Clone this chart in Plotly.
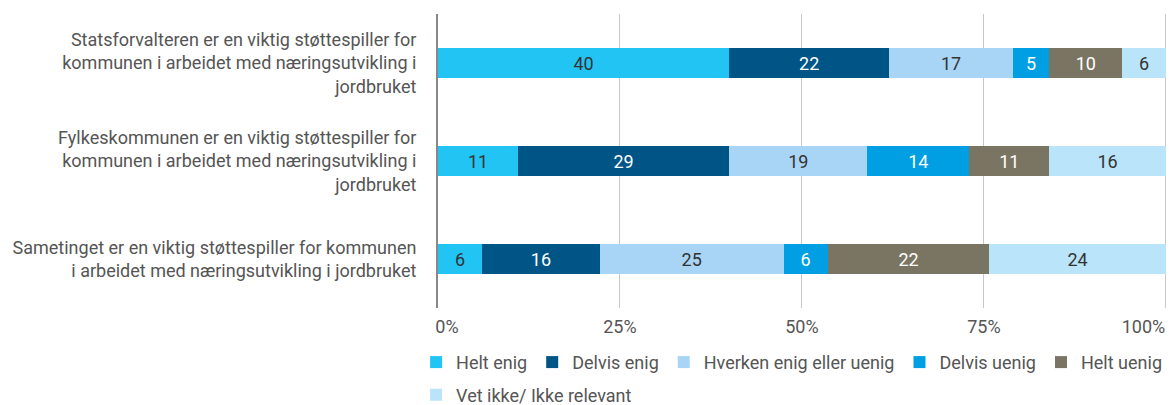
import plotly.graph_objects as go

statements = [
    "Statsforvalteren er en viktig støttespiller for<br>kommunen i arbeidet med næringsutvikling i<br>jordbruket",
    "Fylkeskommunen er en viktig støttespiller for<br>kommunen i arbeidet med næringsutvikling i<br>jordbruket",
    "Sametinget er en viktig støttespiller for kommunen<br>i arbeidet med næringsutvikling i jordbruket",
]
answers = ["Helt enig", "Delvis enig", "Hverken enig eller uenig",
           "Delvis uenig", "Helt uenig", "Vet ikke/ Ikke relevant"]
helt_enig = [40, 11, 6]
delvis_enig = [22, 29, 16]
hverken = [17, 19, 25]
delvis_uenig = [5, 14, 6]
helt_uenig = [10, 11, 22]
vet_ikke = [6, 16, 24]

tick_vals = [0, 25, 50, 75, 100]
tick_text = ["\u00a0\u00a0\u00a0\u00a00%", "25%", "50%", "75%",
             "100%" + "\u00a0" * 10]

values = [helt_enig, delvis_enig, hverken, delvis_uenig, helt_uenig, vet_ikke]
colors = ["#21C4F3", "#005587", "#A8D5F5", "#009FE3", "#7A7562", "#B9E4FA"]
text_colors = ["#333333", "#ffffff", "#333333", "#ffffff", "#ffffff", "#333333"]
legend_ids = ["legend", "legend", "legend", "legend", "legend", "legend2"]

fig = go.Figure()
for name, vals, col, tcol, lg in zip(answers, values, colors, text_colors, legend_ids):
    fig.add_trace(go.Bar(
        y=statements, x=vals, name=name, orientation="h", legend=lg,
        marker=dict(color=col, line=dict(width=0)),
        text=vals, texttemplate="%{text}", textposition="inside",
        insidetextanchor="middle", constraintext="none",
        textfont=dict(color=tcol, size=18, family="Roboto"),
    ))

legend_style = dict(orientation="h", xanchor="left", yanchor="middle",
                    font=dict(size=18, color="#555555"), traceorder="normal",
                    itemwidth=30, tracegroupgap=0, bgcolor="rgba(0,0,0,0)")
fig.update_layout(
    barmode="stack", barnorm="percent", bargap=0.694,
    width=1171, height=405,
    margin=dict(l=438, r=3, t=14, b=97, autoexpand=False),
    plot_bgcolor="white", paper_bgcolor="white",
    font=dict(family="Roboto", size=18, color="#555555"),
    legend=dict(x=-0.03, y=-0.185, **legend_style),
    legend2=dict(x=-0.03, y=-0.296, **legend_style),
    showlegend=True,
)
# range a touch past 100 so the 100% gridline is not dropped at the plot edge
fig.update_xaxes(range=[0, 100.3], tickvals=tick_vals, ticktext=tick_text,
                 showgrid=True, gridcolor="#C8C8C8", gridwidth=1, zeroline=False,
                 showline=False, automargin=False, ticklabeloverflow="allow",
                 ticklabelstandoff=6,
                 tickfont=dict(size=18, color="#555555"))
fig.update_yaxes(autorange="reversed", showline=True, linecolor="#888888", linewidth=2,
                 ticks="", ticklabelstandoff=16, automargin=False,
                 tickfont=dict(size=18, color="#555555"))

# drop the browser's default 8px body margin so the figure fills the window
fig.write_html("out.html", config={"displayModeBar": False},
               post_script="document.body.style.margin='0';document.body.style.overflow='hidden';")
